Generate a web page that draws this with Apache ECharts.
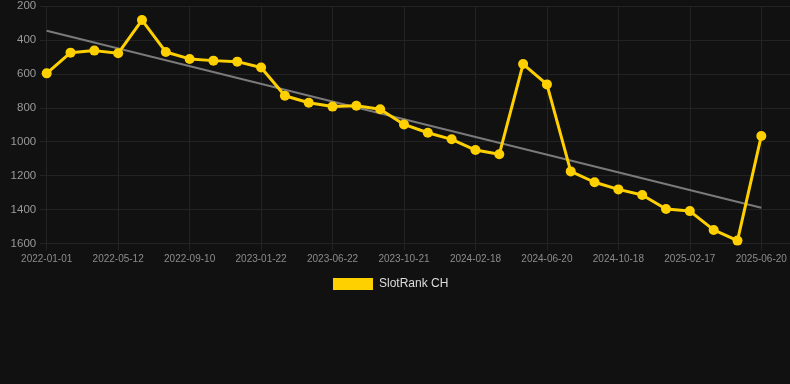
<!DOCTYPE html>
<html>
<head>
<meta charset="utf-8">
<script src="https://cdn.jsdelivr.net/npm/echarts@6/dist/echarts.min.js"></script>
<style>
html,body{margin:0;padding:0;background:#111111;}
#chart{width:790px;height:384px;}
</style>
</head>
<body>
<div id="chart"></div>
<script>
var categories = [
  '2022-01-01','2022-02-14','2022-03-29','2022-05-12','2022-06-21','2022-08-01',
  '2022-09-10','2022-10-25','2022-12-08','2023-01-22','2023-03-13','2023-05-02',
  '2023-06-22','2023-08-01','2023-09-10','2023-10-21','2023-11-30','2024-01-09',
  '2024-02-18','2024-04-01','2024-05-11','2024-06-20','2024-07-30','2024-09-08',
  '2024-10-18','2024-11-27','2025-01-07','2025-02-17','2025-03-29','2025-05-09',
  '2025-06-20'
];
var rankValues = [
  597, 475, 463, 479, 283, 471, 512, 522, 528, 563,
  729, 770, 793, 788, 809, 898, 947, 986, 1049, 1074,
  542, 662, 1175, 1239, 1281, 1314, 1397, 1409, 1520, 1583,
  966
];
var trendStart = 346;
var trendEnd = 1389;
var yTicks = [200, 400, 600, 800, 1000, 1200, 1400, 1600];

var trendValues = categories.map(function (c, i) {
  if (i === 0) return trendStart;
  if (i === categories.length - 1) return trendEnd;
  return null;
});

var gridColor = '#232323';
var chart = echarts.init(document.getElementById('chart'), null, {renderer: 'canvas'});
chart.setOption({
  backgroundColor: '#111111',
  animation: false,
  grid: [
    {left: 46.7, right: 28.7, top: 6, bottom: 140.5},
    {left: 40, right: 0, top: 6, bottom: 140.5}
  ],
  legend: {
    data: ['SlotRank CH'],
    top: 273,
    left: 328,
    icon: 'rect',
    itemWidth: 40,
    itemHeight: 12,
    itemGap: 10,
    textStyle: {color: '#dddddd', fontSize: 12, padding: [0, 0, 0, 1], fontFamily: 'Liberation Sans, Arial, sans-serif'}
  },
  xAxis: [
    {
      type: 'category',
      gridIndex: 0,
      data: categories,
      boundaryGap: false,
      axisLine: {show: true, lineStyle: {color: gridColor}},
      axisTick: {show: true, interval: 2, length: 7, lineStyle: {color: gridColor}},
      axisLabel: {interval: 2, color: '#8c8c8c', fontSize: 10, margin: 11,
        fontFamily: 'Liberation Sans, Arial, sans-serif'},
      splitLine: {show: true, interval: 2, lineStyle: {color: gridColor}}
    },
    {type: 'value', gridIndex: 1, show: false, min: 0, max: 1}
  ],
  yAxis: [
    {
      type: 'value',
      gridIndex: 0,
      inverse: true,
      min: yTicks[0],
      max: yTicks[yTicks.length - 1],
      interval: 200,
      axisLine: {show: false},
      axisTick: {show: false},
      splitLine: {show: false},
      axisLabel: {color: '#999999', fontSize: 11.5, margin: 10.5,
        formatter: function (v) { return String(v); },
        fontFamily: 'Liberation Sans, Arial, sans-serif'}
    },
    {
      type: 'value',
      gridIndex: 1,
      inverse: true,
      min: yTicks[0],
      max: yTicks[yTicks.length - 1],
      interval: 200,
      axisLine: {show: false},
      axisTick: {show: false},
      axisLabel: {show: false},
      splitLine: {show: true, lineStyle: {color: gridColor}}
    }
  ],
  series: [
    {
      name: 'Trend',
      type: 'line',
      xAxisIndex: 0,
      yAxisIndex: 0,
      data: trendValues,
      connectNulls: true,
      showSymbol: false,
      symbol: 'none',
      lineStyle: {color: '#7a7a7a', width: 2},
      itemStyle: {color: '#7a7a7a'},
      z: 2
    },
    {
      name: 'SlotRank CH',
      type: 'line',
      xAxisIndex: 0,
      yAxisIndex: 0,
      data: rankValues,
      symbol: 'circle',
      symbolSize: 10,
      lineStyle: {color: '#ffd000', width: 3},
      itemStyle: {color: '#ffd000'},
      z: 3
    }
  ]
});
</script>
</body>
</html>
